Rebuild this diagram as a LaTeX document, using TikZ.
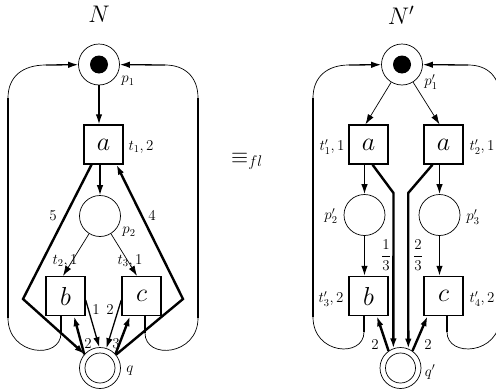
\RequirePackage{fix-cm}
\documentclass[tikz,border=0pt]{standalone}
\usetikzlibrary{arrows.meta}
\begin{document}
\begin{tikzpicture}[x=1pt,y=-1pt,
  place/.style={circle,draw,line width=0.7pt,minimum size=41pt,inner sep=0pt},
  inplace/.style={circle,draw,line width=0.7pt,minimum size=30pt,inner sep=0pt},
  token/.style={circle,fill,minimum size=18pt,inner sep=0pt},
  trans/.style={rectangle,draw,line width=1.4pt,minimum size=39pt,inner sep=0pt,font=\fontsize{26}{26}\selectfont},
  lab/.style={inner sep=0pt,font=\fontsize{15}{15}\selectfont},
  fraclab/.style={inner sep=0pt,font=\fontsize{15}{15}\selectfont},
  big/.style={inner sep=0pt,font=\fontsize{24}{24}\selectfont},
  thinarc/.style={line width=0.7pt},
  medarc/.style={line width=1.3pt},
  thickarc/.style={line width=2.4pt},
  tip/.style={-{Latex[length=10pt,width=6.5pt]}},
]
\useasboundingbox (0,0) rectangle (496,391);

% ---------- left net N ----------
\node[big,anchor=base] (tN) at (99,22) {$N$};
\node[place] (p1) at (99,64.5) {};
\node[token] (tok1) at (p1) {};
\node[trans] (a) at (103.5,144.5) {$a$};
\node[place] (p2) at (100,216) {};
\node[trans] (b) at (65.5,296) {$b$};
\node[trans] (c) at (141.5,296) {$c$};
\node[place] (q) at (100,368) {};
\node[inplace] (qi) at (q) {};

\node[lab] (lp1) at (128,81) {$p_1$};
\node[lab] (lt1) at (141,147) {$t_1,2$};
\node[lab] (lp2) at (129,232) {$p_2$};
\node[lab] (lt2) at (65,261) {$t_2,1$};
\node[lab] (lt3) at (130,261) {$t_3,1$};
\node[lab] (lq) at (130,371) {$q$};

\draw[medarc,tip] (p1.south) -- (a.north -| p1);
\draw[medarc,tip] (a.south -| p2) -- (p2.north);
\draw[thinarc,tip] (p2) -- ([xshift=-2.5pt]b.north);
\draw[thinarc,tip] (p2) -- ([xshift=-4.5pt]c.north);

\coordinate (k1) at (23,299);
\coordinate (k2) at (183,299);
\draw[thickarc,tip] ([xshift=-12pt]a.south) -- (k1) -- (q);
\draw[thickarc,tip] (q) -- (k2) -- ([xshift=13pt]a.south);
\node[lab] (w5) at (53,216) {$5$};
\node[lab] (w4) at (152,216) {$4$};

\draw[medarc,tip] ([yshift=-4pt]b.east) -- (q.92);
\draw[medarc,tip] ([yshift=-4pt]c.west) -- (q.72);
\draw[thickarc,tip] (q.139) -- ([xshift=8.5pt]b.south);
\draw[thickarc,tip] (q.42) -- ([xshift=-11.5pt]c.south);
\node[lab] (w1) at (96,310) {$1$};
\node[lab] (w2) at (110,310) {$2$};
\node[lab] (w2b) at (88,344) {$2$};
\node[lab] (w3) at (116,344) {$3$};

% loops of N
\coordinate (lb1) at (61,333);
\coordinate (lb2) at (8,318);
\coordinate (lb3) at (8,98);
\coordinate (lb4) at (46,65);
\draw[thickarc] ([xshift=-4.5pt]b.south) -- (lb1);
\draw[thinarc] (lb1) .. controls (61,360) and (8,356) .. (lb2);
\draw[thickarc] (lb2) -- (lb3);
\draw[thinarc] (lb3) .. controls (8,77) and (22,65) .. (lb4);
\draw[medarc,tip] (lb4) -- (p1);

\coordinate (rb1) at (145,333);
\coordinate (rb2) at (198,318);
\coordinate (rb3) at (198,98);
\coordinate (rb4) at (165,65);
\draw[thickarc] ([xshift=3.5pt]c.south) -- (rb1);
\draw[thinarc] (rb1) .. controls (145,360) and (198,356) .. (rb2);
\draw[thickarc] (rb2) -- (rb3);
\draw[thinarc] (rb3) .. controls (198,77) and (185,65) .. (rb4);
\draw[medarc,tip] (rb4) -- (p1);

% ---------- equivalence ----------
\node[anchor=base west,inner sep=0pt,font=\fontsize{22}{22}\selectfont] (eq) at (231,163) {$\equiv_{fl}$};

% ---------- right net N' ----------
\node[big,anchor=base] (tNp) at (401,24) {$N'$};
\node[place] (pp1) at (402,64.5) {};
\node[token] (tok2) at (pp1) {};
\node[trans] (t1) at (368.5,144.5) {$a$};
\node[trans] (t2) at (443.5,144.5) {$a$};
\node[place] (pp2) at (364.5,215) {};
\node[place] (pp3) at (439.5,215) {};
\node[trans] (t3) at (368.5,296) {$b$};
\node[trans] (t4) at (443.5,296) {$c$};
\node[place] (qq) at (400.5,368) {};
\node[inplace] (qqi) at (qq) {};

\node[lab] (lpp1) at (431,82) {$p'_1$};
\node[lab] (lt1p) at (332,147) {$t'_1,1$};
\node[lab] (lt2p) at (482,147) {$t'_2,1$};
\node[lab] (lpp2) at (331,216) {$p'_2$};
\node[lab] (lpp3) at (473,217) {$p'_3$};
\node[lab] (lt3p) at (331,299) {$t'_3,2$};
\node[lab] (lt4p) at (482,299) {$t'_4,2$};
\node[lab] (lqq) at (430,372) {$q'$};

\draw[thinarc,tip] (pp1) -- ([xshift=-3pt]t1.north);
\draw[thinarc,tip] (pp1) -- ([xshift=-4pt]t2.north);
\draw[medarc,tip] (t1.south -| pp2) -- (pp2.north);
\draw[medarc,tip] (t2.south -| pp3) -- (pp3.north);
\draw[medarc,tip] (pp2.south) -- (t3.north -| pp2);
\draw[medarc,tip] (pp3.south) -- (t4.north -| pp3);

\coordinate (m1) at (393.5,193);
\coordinate (m2) at (408.2,193);
\draw[thickarc,tip] ([xshift=4pt]t1.south) -- (m1) -- (qq.110);
\draw[thickarc,tip] ([xshift=-11pt]t2.south) -- (m2) -- (qq.68);
\node[fraclab] (wf1) at (386,255) {$\displaystyle\frac{1}{3}$};
\node[fraclab] (wf2) at (418,255) {$\displaystyle\frac{2}{3}$};

\draw[thickarc,tip] (qq.125) -- ([xshift=8.5pt]t3.south);
\draw[thickarc,tip] (qq.55) -- ([xshift=-16pt]t4.south);
\node[lab] (wq1) at (375,345) {$2$};
\node[lab] (wq2) at (428,345) {$2$};

% loops of N'
\coordinate (sl1) at (364,332);
\coordinate (sl2) at (313,317);
\coordinate (sl3) at (313,98);
\coordinate (sl4) at (349,65);
\draw[thickarc] ([xshift=-4.5pt]t3.south) -- (sl1);
\draw[thinarc] (sl1) .. controls (364,358) and (313,355) .. (sl2);
\draw[thickarc] (sl2) -- (sl3);
\draw[thinarc] (sl3) .. controls (313,77) and (327,65) .. (sl4);
\draw[medarc,tip] (sl4) -- (pp1);

\coordinate (sr1) at (447,332);
\coordinate (sr2) at (500,317);
\coordinate (sr3) at (500,98);
\coordinate (sr4) at (468,65);
\draw[thickarc] ([xshift=3.5pt]t4.south) -- (sr1);
\draw[thinarc] (sr1) .. controls (447,358) and (500,355) .. (sr2);
\draw[thickarc] (sr2) -- (sr3);
\draw[thinarc] (sr3) .. controls (500,77) and (488,65) .. (sr4);
\draw[medarc,tip] (sr4) -- (pp1);
\end{tikzpicture}
\end{document}
